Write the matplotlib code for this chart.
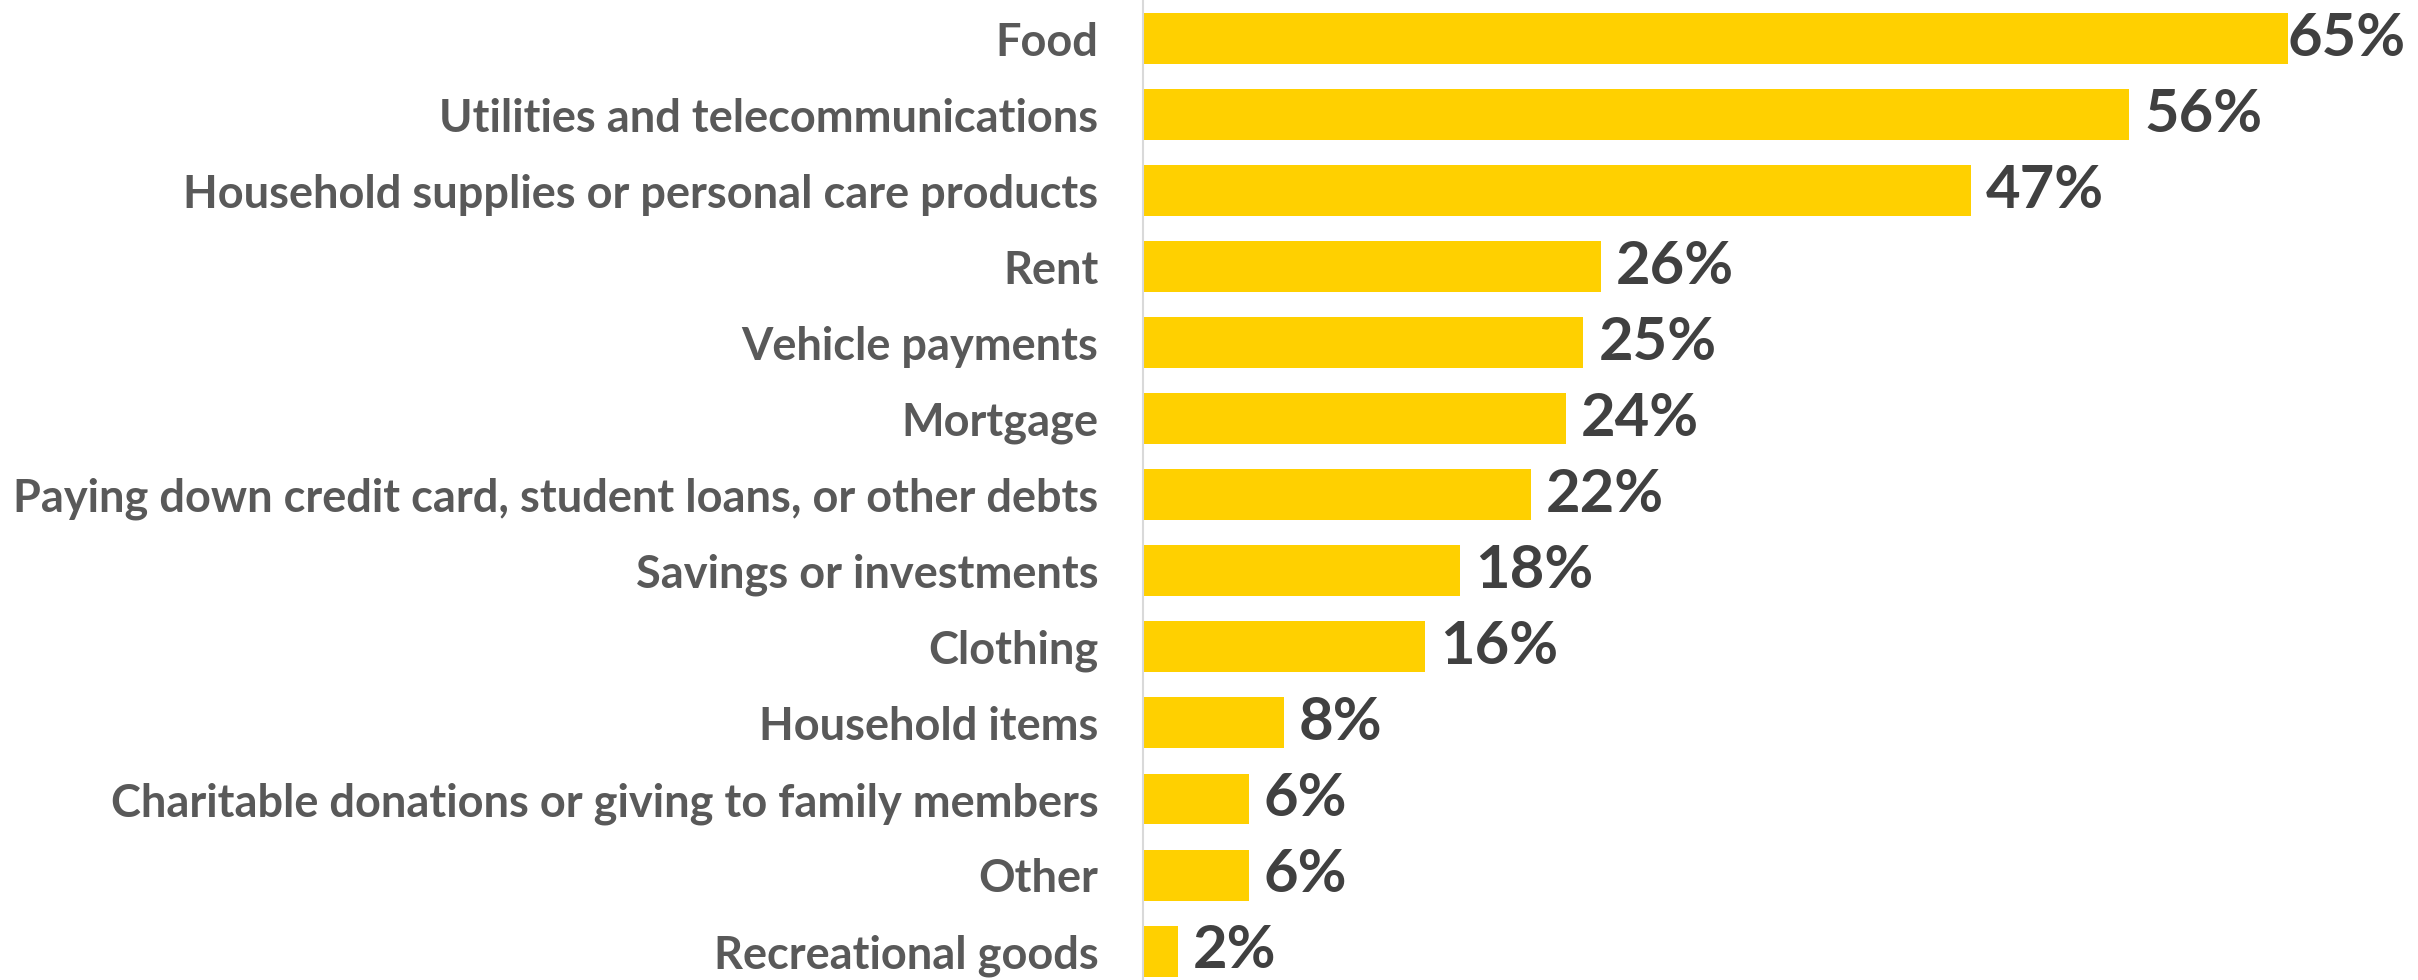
import matplotlib.pyplot as plt

# spending categories, top to bottom
categories = [
    "Food",
    "Utilities and telecommunications",
    "Household supplies or personal care products",
    "Rent",
    "Vehicle payments",
    "Mortgage",
    "Paying down credit card, student loans, or other debts",
    "Savings or investments",
    "Clothing",
    "Household items",
    "Charitable donations or giving to family members",
    "Other",
    "Recreational goods",
]
shares = [65, 56, 47, 26, 25, 24, 22, 18, 16, 8, 6, 6, 2]

W, H, DPI = 2418, 980, 100
fig = plt.figure(figsize=(W / DPI, H / DPI), dpi=DPI)
plt.rcParams['font.family'] = ['Lato', 'DejaVu Sans']

# axes span from the category axis line to the end of the longest bar
left_px, right_px = 1143, 2288
ax = fig.add_axes([left_px / W, 0, (right_px - left_px) / W, 1])

y = range(len(categories))
ax.barh(y, shares, height=0.67, color='#FFD000')
ax.set_xlim(0, max(shares))
ax.set_ylim(12.38, -0.507)

for spine in ['top', 'right', 'bottom']:
    ax.spines[spine].set_visible(False)
ax.spines['left'].set_color('#D9D9D9')
ax.spines['left'].set_linewidth(1.5)
ax.set_xticks([])
ax.set_yticks(list(y))
ax.set_yticklabels(categories, fontsize=32.5, fontweight='bold', color='#595959')
ax.tick_params(axis='y', length=0, pad=32)

# value labels just past the bar end; the longest one sits flush to fit
for i, v in enumerate(shares):
    dx = 0 if v == max(shares) else 15
    ax.annotate(f"{v}%", (v, i), xytext=(dx, 0), textcoords='offset pixels',
                ha='left', va='center', fontsize=43, fontweight='bold',
                color='#404040', annotation_clip=False)

fig.savefig('out.png', dpi=DPI)
